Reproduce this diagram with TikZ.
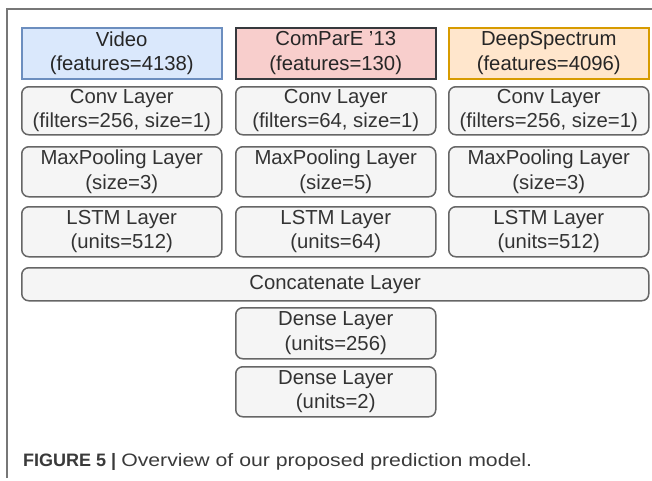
\documentclass[tikz,border=0pt]{standalone}
\usepackage{fontspec}
\usepackage{graphicx}
\setmainfont{Liberation Sans}
\definecolor{vidfill}{HTML}{DAE8FC}
\definecolor{vidline}{HTML}{6C8EBF}
\definecolor{cmpfill}{HTML}{F8CECC}
\definecolor{cmpline}{HTML}{36393D}
\definecolor{dsfill}{HTML}{FFE6CC}
\definecolor{dsline}{HTML}{D79B00}
\definecolor{layfill}{HTML}{F5F5F5}
\definecolor{layline}{HTML}{666666}
\definecolor{laytext}{HTML}{333333}
\definecolor{captext}{HTML}{3A3A3A}
\definecolor{framecol}{HTML}{777777}
\begin{document}
\begin{tikzpicture}[x=1pt,y=-1pt,
  lbl/.style={font=\fontsize{20.3}{24.5}\selectfont, align=center, inner sep=0pt, anchor=north west, line width=1.5pt},
  inputbox/.style={lbl, text=black!85},
  layerbox/.style={lbl, fill=layfill, draw=layline, rounded corners=7pt, text=laytext},
  frameline/.style={draw=framecol, line width=1.5pt}
]
\useasboundingbox (0,0) rectangle (652,480);
% outer frame (top and left edges)
\coordinate (fa) at (7,478);
\coordinate (fb) at (7,9);
\coordinate (fc) at (652,9);
\draw[frameline] (fa) -- (fb) -- (fc);

% input feature sets
\node[inputbox, fill=vidfill, draw=vidline, minimum width=200pt, minimum height=51pt] (video) at (21,27) {Video\\(features=4138)};
\node[inputbox, fill=cmpfill, draw=cmpline, minimum width=200pt, minimum height=51pt] (compare) at (235,27) {ComParE '13\\(features=130)};
\node[inputbox, fill=dsfill, draw=dsline, minimum width=200pt, minimum height=51pt] (deepspec) at (448,27) {DeepSpectrum\\(features=4096)};

% convolution layers
\node[layerbox, minimum width=200pt, minimum height=48pt] (conv1) at (21,86) {Conv Layer\\(filters=256, size=1)};
\node[layerbox, minimum width=200pt, minimum height=48pt] (conv2) at (235,86) {Conv Layer\\(filters=64, size=1)};
\node[layerbox, minimum width=200pt, minimum height=48pt] (conv3) at (448,86) {Conv Layer\\(filters=256, size=1)};

% max pooling layers
\node[layerbox, minimum width=200pt, minimum height=50pt] (pool1) at (21,146) {MaxPooling Layer\\(size=3)};
\node[layerbox, minimum width=200pt, minimum height=50pt] (pool2) at (235,146) {MaxPooling Layer\\(size=5)};
\node[layerbox, minimum width=200pt, minimum height=50pt] (pool3) at (448,146) {MaxPooling Layer\\(size=3)};

% LSTM layers
\node[layerbox, minimum width=200pt, minimum height=50pt] (lstm1) at (21,206) {LSTM Layer\\(units=512)};
\node[layerbox, minimum width=200pt, minimum height=50pt] (lstm2) at (235,206) {LSTM Layer\\(units=64)};
\node[layerbox, minimum width=200pt, minimum height=50pt] (lstm3) at (448,206) {LSTM Layer\\(units=512)};

% merge and dense head
\node[layerbox, minimum width=627pt, minimum height=33pt] (concat) at (21,267) {Concatenate Layer};
\node[layerbox, minimum width=200pt, minimum height=51pt] (dense1) at (235,307) {Dense Layer\\(units=256)};
\node[layerbox, minimum width=200pt, minimum height=50pt] (dense2) at (235,366) {Dense Layer\\(units=2)};

% caption
\node[anchor=base west, inner sep=0pt, text=captext, font=\fontsize{18}{22}\selectfont] (caption) at (23,466)
  {\textbf{FIGURE 5 |} \scalebox{1.18}[1]{Overview of our proposed prediction model.}};
\end{tikzpicture}
\end{document}
